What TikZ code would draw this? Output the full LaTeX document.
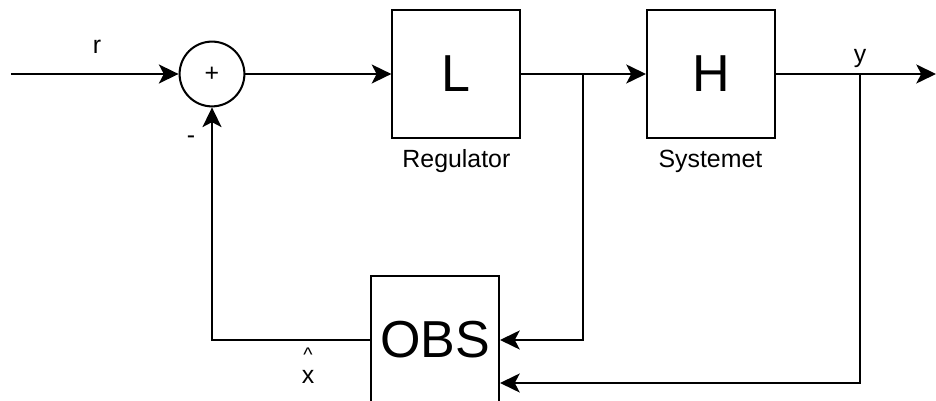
\documentclass[tikz,border=0pt]{standalone}
\usepackage{fontspec}
\setmainfont{Liberation Sans}
\usetikzlibrary{arrows.meta}

\begin{document}
\begin{tikzpicture}[
    line width=1.45pt,
    arr/.style={-{Stealth[length=14pt,width=13.5pt,inset=3.5pt]}},
    blk/.style={draw,minimum size=3.2cm,inner sep=0pt,font=\fontsize{37}{40}\selectfont},
    sumc/.style={draw,circle,minimum size=1.62cm,inner sep=0pt,font=\fontsize{17.7}{21}\selectfont},
    lbl/.style={inner sep=0pt,font=\fontsize{17.7}{21}\selectfont}]
  \useasboundingbox (0,0) rectangle (23.4,10.025);
  % blocks
  \node[sumc] (sum) at (5.3,8.175) {+};
  \node[blk] (reg) at (11.41,8.175) {L};
  \node[blk] (sys) at (17.775,8.175) {H};
  \node[blk] (obs) at (10.875,1.525) {OBS};
  \coordinate (in) at (0.275,8.175);
  \coordinate (out) at (23.4,8.175);
  \coordinate (b1) at (14.575,8.175);
  \coordinate (b2) at (21.5,8.175);
  \coordinate (low) at (21.5,0.45);
  % forward path
  \draw[arr] (in) -- (sum);
  \draw[arr] (sum) -- (reg);
  \draw[arr] (reg) -- (sys);
  \draw[arr] (sys) -- (out);
  % feedback
  \draw[arr] (b1) |- (obs.east);
  \draw[arr] (b2) -- (low) -- (low -| obs.east);
  \draw[arr] (obs.west) -| (sum.south);
  % labels
  \node[lbl] (rlab) at (2.425,8.85) {r};
  \node[lbl] (ylab) at (21.5,8.55) {y};
  \node[lbl] (minus) at (4.775,6.525) {-};
  \node[lbl] (reglab) at (11.41,6.0) {Regulator};
  \node[lbl] (syslab) at (17.76,6.0) {Systemet};
  \node[lbl] (hat) at (7.7,1.15) {\fontsize{14}{16}\selectfont\textasciicircum};
  \node[lbl] (xlab) at (7.7,0.6) {x};
\end{tikzpicture}
\end{document}
